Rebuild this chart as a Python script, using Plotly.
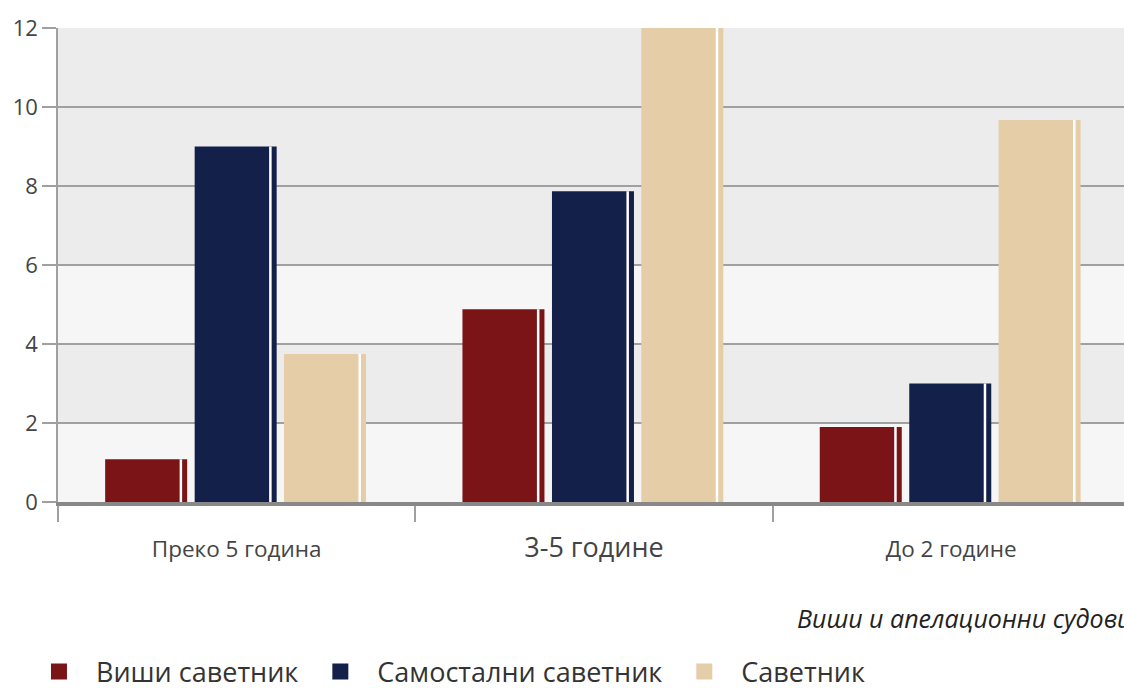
import plotly.graph_objects as go

# data
categories = ['Преко 5 година', '3-5 године', 'До 2 године']
series_names = ['Виши саветник', 'Самостални саветник', 'Саветник']
visi_savetnik = [1.08, 4.88, 1.9]
samostalni_savetnik = [9.0, 7.87, 3.0]
savetnik = [3.75, 12.6, 9.67]
y_ticks = [0, 2, 4, 6, 8, 10, 12]
subtitle = 'Виши и апелационни судови'

colors = ['#7b1416', '#13204a', '#e5cda8']
offsets = [-0.368, -0.1175, 0.1325]
bar_w = 0.2295
stripe_off = 0.2084
stripe_w = 0.007
label_sizes = [22.5, 27, 22.5]

FONT = 'Open Sans, Noto Sans, sans-serif'

fig = go.Figure()
for name, vals, col, off in zip(series_names, [visi_savetnik, samostalni_savetnik, savetnik], colors, offsets):
    fig.add_trace(go.Bar(x=categories, y=vals, name=name, marker_color=col,
                         marker_line_width=0, width=bar_w, offset=off,
                         showlegend=False))
    # thin white highlight near the right edge of each bar
    fig.add_trace(go.Bar(x=categories, y=vals, marker_color='white',
                         marker_line_width=0, width=stripe_w, offset=off + stripe_off,
                         showlegend=False, hoverinfo='skip'))
    # legend entry
    fig.add_trace(go.Scatter(x=[None], y=[None], mode='markers', name=name,
                             marker=dict(symbol='square', size=17, color=col)))

# alternating light bands in the background
for y0, y1 in [(0, 2), (4, 6)]:
    fig.add_shape(type='rect', xref='paper', yref='y', x0=0, x1=1, y0=y0, y1=y1,
                  fillcolor='#f6f6f6', line_width=0, layer='below')

fig.add_annotation(text='<i>' + subtitle + '</i>', xref='paper', yref='paper',
                   x=0.6914, y=-0.245, xanchor='left', yanchor='middle',
                   showarrow=False, font=dict(family=FONT, size=25, color='#222'))

ticktext = [f"<span style='font-size:{s}px'>{c}</span>" for c, s in zip(categories, label_sizes)]

fig.update_layout(
    width=1124, height=688,
    margin=dict(l=58, r=0, t=28, b=186, autoexpand=False),
    plot_bgcolor='#ececec', paper_bgcolor='white',
    barmode='overlay',
    font=dict(family=FONT, color='#444'),
    legend=dict(orientation='h', x=-0.0338, y=-0.3586, xanchor='left', yanchor='middle',
                itemwidth=64, font=dict(size=27, color='#333'),
                bgcolor='rgba(0,0,0,0)'),
)
fig.update_xaxes(type='category', range=[-0.5, 2.4835], tickmode='array',
                 tickvals=categories, ticktext=ticktext, tickson='boundaries',
                 ticks='outside', ticklen=16, tickwidth=1.5, tickcolor='#a0a0a0',
                 showline=True, linewidth=4, linecolor='#888888',
                 showgrid=False, tickfont=dict(size=23, color='#444'),
                 ticklabelstandoff=23, automargin=False)
fig.update_yaxes(range=[0, 12], tickvals=y_ticks, ticks='outside', ticklen=14,
                 tickwidth=1.5, tickcolor='#a0a0a0', showgrid=True,
                 gridcolor='#a0a0a0', gridwidth=1.5, zeroline=False,
                 showline=True, linewidth=1.5, linecolor='#a0a0a0',
                 tickfont=dict(size=22, color='#444'), automargin=False)

# drop the default body margin so the figure fills the window
fig.write_html('out.html', config={'displayModeBar': False},
               post_script="document.body.style.margin='0';")
